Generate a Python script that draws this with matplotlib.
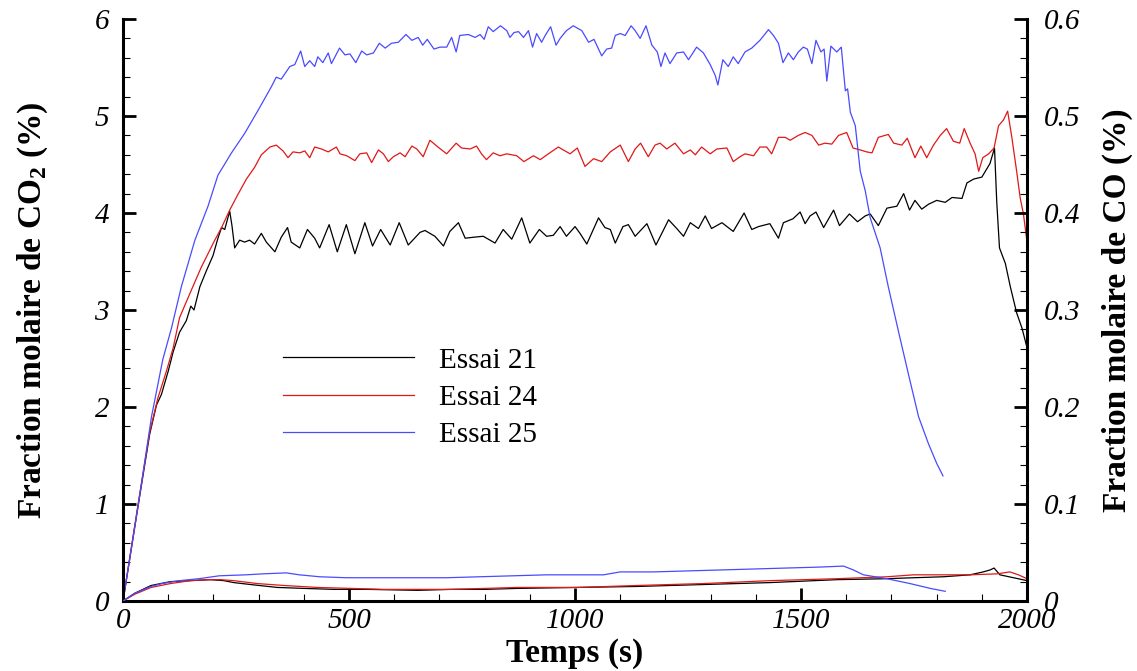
import numpy as np
import matplotlib
matplotlib.use("Agg")
from matplotlib import pyplot as plt
from matplotlib.ticker import MultipleLocator, FixedLocator

plt.rcParams['font.family'] = ['Liberation Serif', 'DejaVu Serif']
plt.rcParams['mathtext.fontset'] = 'custom'
plt.rcParams['mathtext.rm'] = 'Liberation Serif'
plt.rcParams['mathtext.bf'] = 'Liberation Serif:bold'

# ---- data ----
# CO2 (left axis, %)
t21_co2 = [0, 33, 59, 74, 85, 100, 111, 125, 140, 150,
           157, 170, 184, 199, 210, 218, 225, 236, 241, 247,
           258, 269, 280, 291, 306, 317, 336, 350, 364, 372,
           391, 408, 424, 435, 456, 474, 494, 513, 535, 552,
           570, 591, 611, 631, 657, 668, 690, 709, 723, 742,
           757, 775, 797, 823, 841, 860, 882, 900, 921, 937,
           952, 967, 981, 1000, 1011, 1026, 1052, 1066, 1078, 1089,
           1106, 1118, 1133, 1159, 1179, 1207, 1225, 1240, 1255, 1273,
           1288, 1302, 1325, 1350, 1374, 1391, 1406, 1431, 1450, 1461,
           1482, 1498, 1509, 1520, 1533, 1550, 1572, 1585, 1607, 1625,
           1642, 1653, 1671, 1690, 1712, 1727, 1740, 1752, 1767, 1782,
           1800, 1819, 1834, 1856, 1867, 1882, 1900, 1918, 1928, 1933,
           1939, 1952, 1963, 1977, 1989, 2000]
co2_21 = [0, 0.97, 1.72, 2.02, 2.13, 2.37, 2.57, 2.77, 2.89, 3.04,
          3.00, 3.24, 3.40, 3.56, 3.74, 3.85, 3.83, 4.02, 3.87, 3.64,
          3.72, 3.70, 3.72, 3.68, 3.79, 3.70, 3.60, 3.75, 3.85, 3.70,
          3.64, 3.83, 3.74, 3.64, 3.88, 3.60, 3.88, 3.58, 3.90, 3.66,
          3.83, 3.67, 3.90, 3.67, 3.80, 3.82, 3.76, 3.66, 3.81, 3.90,
          3.74, 3.75, 3.76, 3.69, 3.83, 3.73, 3.95, 3.69, 3.83, 3.76,
          3.77, 3.86, 3.76, 3.86, 3.79, 3.68, 3.95, 3.85, 3.83, 3.69,
          3.86, 3.88, 3.76, 3.89, 3.67, 3.93, 3.84, 3.76, 3.90, 3.84,
          3.97, 3.84, 3.90, 3.81, 4.00, 3.83, 3.86, 3.89, 3.74, 3.90,
          3.94, 4.01, 3.89, 3.97, 4.01, 3.85, 4.03, 3.87, 3.99, 3.91,
          3.97, 3.99, 3.87, 4.05, 4.07, 4.20, 4.03, 4.13, 4.04, 4.09,
          4.13, 4.11, 4.16, 4.15, 4.31, 4.35, 4.37, 4.51, 4.67, 4.11,
          3.64, 3.48, 3.24, 2.97, 2.81, 2.61]

t24_co2 = [0, 33, 59, 77, 96, 111, 125, 147, 173, 203,
           218, 236, 254, 273, 291, 306, 325, 339, 354, 365,
           376, 391, 402, 413, 424, 439, 454, 472, 480, 495,
           513, 524, 539, 550, 565, 576, 587, 598, 613, 624,
           639, 650, 664, 679, 694, 716, 737, 749, 768, 782,
           793, 804, 819, 834, 849, 871, 887, 908, 923, 941,
           963, 989, 1005, 1022, 1041, 1059, 1078, 1100, 1118, 1133,
           1145, 1162, 1177, 1188, 1203, 1221, 1240, 1255, 1266, 1280,
           1299, 1314, 1336, 1350, 1365, 1376, 1395, 1409, 1424, 1435,
           1450, 1465, 1476, 1494, 1509, 1524, 1539, 1553, 1568, 1583,
           1601, 1615, 1631, 1645, 1657, 1671, 1693, 1705, 1723, 1735,
           1752, 1765, 1778, 1793, 1808, 1822, 1837, 1851, 1861, 1874,
           1885, 1893, 1902, 1915, 1927, 1937, 1948, 1957, 1966, 1977,
           1985, 1992, 2000]
co2_24 = [0, 0.99, 1.74, 2.09, 2.37, 2.61, 2.92, 3.16, 3.44, 3.72,
          3.85, 4.03, 4.19, 4.35, 4.47, 4.60, 4.68, 4.70, 4.64, 4.57,
          4.63, 4.62, 4.64, 4.57, 4.68, 4.66, 4.63, 4.68, 4.61, 4.59,
          4.54, 4.61, 4.62, 4.52, 4.65, 4.61, 4.53, 4.58, 4.62, 4.58,
          4.69, 4.66, 4.58, 4.75, 4.69, 4.61, 4.72, 4.67, 4.66, 4.69,
          4.61, 4.55, 4.62, 4.59, 4.61, 4.59, 4.53, 4.59, 4.55, 4.61,
          4.68, 4.61, 4.67, 4.48, 4.56, 4.53, 4.63, 4.70, 4.53, 4.66,
          4.72, 4.58, 4.70, 4.72, 4.66, 4.72, 4.61, 4.65, 4.60, 4.68,
          4.61, 4.66, 4.67, 4.53, 4.58, 4.61, 4.59, 4.68, 4.68, 4.61,
          4.78, 4.78, 4.75, 4.80, 4.83, 4.80, 4.70, 4.72, 4.71, 4.80,
          4.83, 4.67, 4.65, 4.63, 4.62, 4.78, 4.81, 4.72, 4.70, 4.77,
          4.57, 4.69, 4.57, 4.70, 4.80, 4.87, 4.74, 4.72, 4.87, 4.72,
          4.61, 4.43, 4.57, 4.61, 4.67, 4.90, 4.96, 5.05, 4.79, 4.43,
          4.15, 3.99, 3.70]

t25_co2 = [0, 33, 63, 88, 107, 129, 159, 188, 210, 240,
           269, 299, 328, 339, 350, 369, 380, 393, 402, 413,
           424, 431, 442, 454, 461, 479, 491, 502, 515, 528,
           539, 554, 567, 580, 594, 609, 626, 639, 653, 663,
           673, 688, 701, 716, 727, 737, 745, 764, 779, 790,
           799, 808, 819, 835, 849, 856, 865, 875, 886, 897,
           906, 915, 926, 934, 946, 958, 967, 981, 996, 1015,
           1030, 1042, 1059, 1070, 1081, 1089, 1100, 1111, 1124, 1133,
           1144, 1157, 1170, 1182, 1190, 1199, 1210, 1225, 1240, 1251,
           1269, 1284, 1299, 1310, 1316, 1327, 1339, 1350, 1361, 1376,
           1391, 1409, 1428, 1439, 1450, 1460, 1472, 1483, 1494, 1505,
           1514, 1524, 1533, 1544, 1551, 1557, 1566, 1579, 1589, 1598,
           1603, 1609, 1620, 1631, 1642, 1653, 1675, 1693, 1716, 1738,
           1760, 1782, 1800, 1814]
co2_25 = [0, 0.97, 1.90, 2.49, 2.81, 3.24, 3.72, 4.07, 4.39, 4.62,
          4.82, 5.06, 5.30, 5.40, 5.38, 5.51, 5.53, 5.67, 5.51, 5.57,
          5.51, 5.61, 5.55, 5.65, 5.54, 5.70, 5.63, 5.64, 5.55, 5.67,
          5.63, 5.65, 5.75, 5.70, 5.75, 5.76, 5.84, 5.78, 5.81, 5.73,
          5.79, 5.69, 5.71, 5.71, 5.81, 5.66, 5.83, 5.84, 5.81, 5.84,
          5.79, 5.92, 5.87, 5.93, 5.88, 5.81, 5.86, 5.87, 5.81, 5.88,
          5.71, 5.85, 5.76, 5.83, 5.92, 5.73, 5.80, 5.88, 5.93, 5.88,
          5.76, 5.79, 5.62, 5.69, 5.70, 5.83, 5.85, 5.83, 5.93, 5.88,
          5.80, 5.93, 5.73, 5.66, 5.51, 5.65, 5.54, 5.65, 5.66, 5.58,
          5.71, 5.65, 5.53, 5.42, 5.32, 5.58, 5.51, 5.61, 5.54, 5.66,
          5.70, 5.78, 5.89, 5.83, 5.75, 5.55, 5.65, 5.58, 5.66, 5.71,
          5.69, 5.54, 5.78, 5.66, 5.69, 5.36, 5.72, 5.66, 5.71, 5.26,
          5.28, 5.04, 4.90, 4.43, 4.23, 3.95, 3.64, 3.24, 2.77, 2.33,
          1.90, 1.62, 1.42, 1.29]

# CO (right axis, %)
t21_co = [0, 26, 62, 105, 149, 194, 223, 245, 282, 341,
          400, 467, 541, 652, 726, 800, 873, 1006, 1137, 1284,
          1432, 1579, 1690, 1749, 1815, 1874, 1903, 1918, 1927, 1940,
          1970, 2000]
co_21 = [0, 0.008, 0.016, 0.020, 0.021, 0.022, 0.021, 0.019, 0.017, 0.014,
         0.013, 0.012, 0.012, 0.011, 0.012, 0.012, 0.013, 0.014, 0.015, 0.017,
         0.019, 0.022, 0.023, 0.024, 0.025, 0.027, 0.030, 0.032, 0.034, 0.027,
         0.024, 0.021]

t24_co = [0, 26, 62, 105, 149, 186, 216, 245, 297, 356,
          430, 504, 578, 652, 726, 800, 873, 947, 1006, 1137,
          1284, 1432, 1579, 1690, 1749, 1815, 1874, 1933, 1962, 1981,
          2000]
co_24 = [0, 0.007, 0.014, 0.018, 0.021, 0.022, 0.022, 0.021, 0.018, 0.016,
         0.014, 0.013, 0.012, 0.012, 0.012, 0.013, 0.014, 0.014, 0.014, 0.016,
         0.018, 0.021, 0.023, 0.025, 0.027, 0.027, 0.027, 0.028, 0.030, 0.027,
         0.023]

t25_co = [0, 26, 62, 86, 125, 168, 213, 272, 309, 361,
          390, 435, 494, 568, 642, 716, 789, 863, 937, 996,
          1063, 1100, 1173, 1247, 1321, 1395, 1468, 1542, 1594, 1616,
          1638, 1690, 1741, 1786, 1819]
co_25 = [0, 0.008, 0.015, 0.018, 0.021, 0.023, 0.026, 0.027, 0.028, 0.029,
         0.027, 0.025, 0.024, 0.024, 0.024, 0.024, 0.025, 0.026, 0.027, 0.027,
         0.027, 0.030, 0.030, 0.031, 0.032, 0.033, 0.034, 0.035, 0.036, 0.032,
         0.027, 0.023, 0.018, 0.013, 0.010]

labels = ['Essai 21', 'Essai 24', 'Essai 25']
colors = ['black', '#e01818', '#4a4aff']

xticks = [0, 500, 1000, 1500, 2000]
xticklabels = ['0', '500', '1000', '1500', '2000']
yticks_left = [0, 1, 2, 3, 4, 5, 6]
yticklabels_left = ['0', '1', '2', '3', '4', '5', '6']
yticks_right = [0, 0.1, 0.2, 0.3, 0.4, 0.5, 0.6]
yticklabels_right = ['0', '0.1', '0.2', '0.3', '0.4', '0.5', '0.6']

# ---- figure ----
fig = plt.figure(figsize=(11.37, 6.71), dpi=100)
ax = fig.add_axes([0.1082, 0.1043, 0.7951, 0.8674])
ax2 = ax.twinx()

lw = 0.9
co2_sets = [(t21_co2, co2_21), (t24_co2, co2_24), (t25_co2, co2_25)]
co_sets = [(t21_co, co_21), (t24_co, co_24), (t25_co, co_25)]
for (tt, yy), c, lab in zip(co2_sets, colors, labels):
    ax.plot(tt, yy, '-', color=c, linewidth=lw, label=lab)
for (tt, yy), c in zip(co_sets, colors):
    ax2.plot(tt, yy, '-', color=c, linewidth=lw)

ax.set_xlim(0, 2000)
ax.set_ylim(0, 6)
ax2.set_ylim(0, 0.6)

ax.xaxis.set_major_locator(FixedLocator(xticks))
ax.set_xticklabels(xticklabels)
ax.xaxis.set_minor_locator(MultipleLocator(100))
ax.yaxis.set_major_locator(FixedLocator(yticks_left))
ax.set_yticklabels(yticklabels_left)
ax.yaxis.set_minor_locator(MultipleLocator(0.2))
ax2.yaxis.set_major_locator(FixedLocator(yticks_right))
ax2.set_yticklabels(yticklabels_right)
ax2.yaxis.set_minor_locator(MultipleLocator(0.02))

for a in (ax, ax2):
    a.spines['top'].set_visible(False)
    for s in a.spines.values():
        s.set_linewidth(2.2)
ax.spines['right'].set_visible(False)
ax2.spines['left'].set_visible(False)
ax2.spines['bottom'].set_visible(False)

ax.tick_params(axis='both', which='major', direction='in', length=9.5, width=2.0,
               labelsize=21)
ax.tick_params(axis='both', which='minor', direction='in', length=5, width=0.8)
ax.tick_params(axis='y', which='major', pad=10)
ax.tick_params(axis='x', which='major', pad=5)
ax.tick_params(top=False, right=False, which='both')
ax2.tick_params(axis='y', which='major', direction='in', length=9.5, width=2.0,
                labelsize=21, pad=12)
ax2.tick_params(axis='y', which='minor', direction='in', length=5, width=0.8)

for lbl in ax.get_xticklabels() + ax.get_yticklabels() + ax2.get_yticklabels():
    lbl.set_fontstyle('italic')

ax.set_xlabel('Temps (s)', fontsize=24, fontweight='bold')
ax.set_ylabel(r'Fraction molaire de CO$_{\mathbf{2}}$ (%)', fontsize=24, fontweight='bold')
ax2.set_ylabel('Fraction molaire de CO (%)', fontsize=24, fontweight='bold')
ax.xaxis.set_label_coords(0.5, -0.064)
ax.yaxis.set_label_coords(-0.081, 0.5)
ax2.yaxis.set_label_coords(1.083, 0.5)

ax.legend(loc='upper left', bbox_to_anchor=(0.177, 0.436), frameon=False,
          fontsize=21, handlelength=4.5, handletextpad=0.85, labelspacing=0.37,
          borderpad=0, borderaxespad=0)

fig.savefig('out.png', dpi=100)
